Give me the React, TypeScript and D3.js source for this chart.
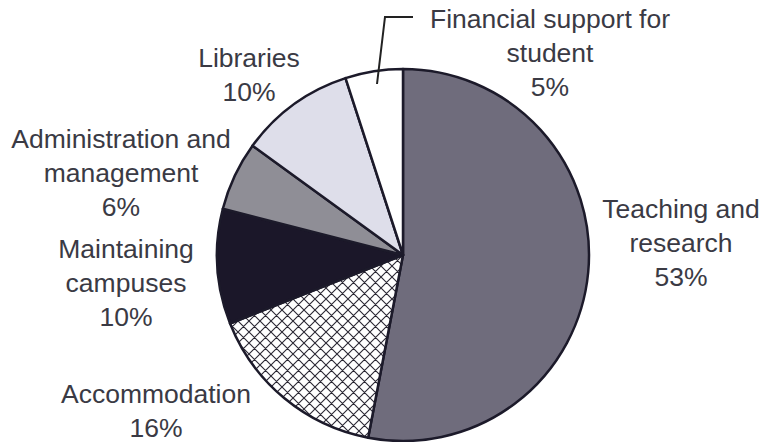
import React from "react";
import * as d3 from "d3";

const categories = [
  "Teaching and research",
  "Accommodation",
  "Maintaining campuses",
  "Administration and management",
  "Libraries",
  "Financial support for student",
];
const values = [53, 16, 10, 6, 10, 5];
const labelLines = [
  ["Teaching and", "research", "53%"],
  ["Accommodation", "16%"],
  ["Maintaining", "campuses", "10%"],
  ["Administration and", "management", "6%"],
  ["Libraries", "10%"],
  ["Financial support for", "student", "5%"],
];
const fills = ["#6f6c7c", "url(#hatch)", "#1b1729", "#8f8e96", "#dedeea", "#ffffff"];
const labelPos: [number, number][] = [
  [681, 218],
  [156, 403],
  [126, 258],
  [121, 148],
  [249, 67],
  [550, 28],
];

export default function App() {
  const W = 760, H = 442;
  const cx = 403, cy = 255, r = 186;
  const pie = d3.pie<number>().sort(null).value((d) => d);
  const arcs = pie(values);
  const arc = d3.arc<d3.PieArcDatum<number>>().innerRadius(0).outerRadius(r);
  const lh = 34;
  return (
    <svg width={W} height={H} style={{ position: "absolute", left: 0, top: 0, background: "#fff" }}>
      <defs>
        <pattern id="hatch" width="11" height="11" patternUnits="userSpaceOnUse">
          <rect width="11" height="11" fill="#fff" />
          <path d="M0,0 L11,11 M11,0 L0,11 M-1,10 L1,12 M10,-1 L12,1 M-1,1 L1,-1 M10,12 L12,10" stroke="#2a2733" strokeWidth="1.1" />
        </pattern>
      </defs>
      <g transform={`translate(${cx},${cy})`}>
        {arcs.map((a, i) => (
          <path key={categories[i]} d={arc(a) || ""} fill={fills[i]} stroke="#1c1a2a" strokeWidth={2.5} strokeLinejoin="round" />
        ))}
      </g>
      <path d="M413,17 L385,17 L377,84" fill="none" stroke="#222" strokeWidth={2} />
      {labelLines.map((lines, i) => (
        <text key={categories[i]} textAnchor="middle" fontFamily="Liberation Sans, Arial, sans-serif" fontSize={26.5} fill="#3a3a44">
          {lines.map((t, j) => (
            <tspan key={j} x={labelPos[i][0]} y={labelPos[i][1] + j * lh}>{t}</tspan>
          ))}
        </text>
      ))}
    </svg>
  );
}
